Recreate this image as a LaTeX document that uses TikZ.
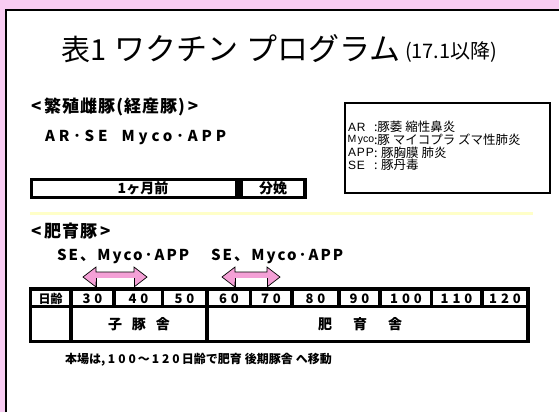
\documentclass[tikz,border=0pt]{standalone}
\usepackage{fontspec}
\setmainfont{Noto Sans CJK JP}[BoldFont={Noto Sans CJK JP Black}]
\newfontfamily\latinlegend{Liberation Sans}
\definecolor{pinkbg}{RGB}{248,204,242}
\definecolor{arrowpink}{RGB}{244,160,214}
\definecolor{lineyellow}{RGB}{255,255,200}
\begin{document}
\begin{tikzpicture}[x=1pt,y=-1pt,
  every node/.style={inner sep=0pt, outer sep=0pt},
  txt/.style={anchor=west},
  boldtxt/.style={anchor=center, font=\bfseries\fontsize{11}{12}\selectfont},
  cell/.style={fill=white},
  legend/.style={anchor=west, font=\fontsize{12.5}{13}\selectfont},
  legendlat/.style={anchor=west, font=\latinlegend\fontsize{12}{13}\selectfont\addfontfeature{LetterSpace=8}},
  parr/.style={fill=arrowpink, draw=black, line width=0.7pt, line join=miter}]
\useasboundingbox (0,0) rectangle (559,412);
% frame
\fill[pinkbg] (0,0) rectangle (559,412);
\fill[white] (6,10) rectangle (559,412);
\draw[line width=2pt] (6,412) -- (6,10) -- (559,10);
% title
\node[txt, font=\fontsize{29}{31}\selectfont] (t1) at (61,49) {表1};
\node[txt, font=\fontsize{31}{33}\selectfont] (t2) at (114,49) {ワクチン\hspace{8pt}プログラム};
\node[txt, font=\fontsize{20}{22}\selectfont] (t3) at (405,52) {(17.1以降)};
% breeding sows
\node[txt, font=\bfseries\fontsize{17}{19}\selectfont\addfontfeature{LetterSpace=6}] (h1) at (31,107) {<\,繁殖雌豚(経産豚)\,>};
\node[txt, font=\bfseries\fontsize{15}{17}\selectfont\addfontfeature{LetterSpace=26}] (v1) at (45,137) {AR･SE\hspace{14pt}Myco･APP};
% 1 month box
\fill[black] (30,178) rectangle (307,199);
\fill[cell] (33,181) rectangle (235,196);
\fill[cell] (243,181) rectangle (303,196);
\node[boldtxt, font=\bfseries\fontsize{14}{15}\selectfont] (m1) at (143,188.5) {1ヶ月前};
\node[boldtxt, font=\bfseries\fontsize{14}{15}\selectfont] (m2) at (273,188.5) {分娩};
% legend
\draw[line width=2.5pt, fill=white] (345,103) rectangle (550,193);
\node[legendlat] (l1a) at (348,127) {AR};
\node[legend] (l1b) at (374,127) {:豚萎 縮性鼻炎};
\node[legendlat, font=\latinlegend\fontsize{10.5}{12}\selectfont] (l2a) at (347.5,140) {M\,yco};
\node[legend] (l2b) at (374,140) {:豚 マイコプラ ズマ性肺炎};
\node[legendlat] (l3a) at (348,152.5) {APP};
\node[legend] (l3b) at (374,152.5) {: 豚胸膜 肺炎};
\node[legendlat] (l4a) at (348,165) {SE};
\node[legend] (l4b) at (374,165) {: 豚丹毒};
% yellow line
\fill[lineyellow] (30,212) rectangle (533,215);
% fattening pigs
\node[txt, font=\bfseries\fontsize{17}{19}\selectfont\addfontfeature{LetterSpace=6}] (h2) at (31,231) {<\,肥育豚\,>};
\node[txt, font=\bfseries\fontsize{15}{17}\selectfont\addfontfeature{LetterSpace=14}] (v2) at (57,256) {SE、Myco･APP};
\node[txt, font=\bfseries\fontsize{15}{17}\selectfont\addfontfeature{LetterSpace=14}] (v3) at (211,256) {SE、Myco･APP};
% pink double arrows
\draw[parr] (83,277) -- (96,267) -- (96,272) -- (134,272) -- (134,267) -- (147,277) -- (134,287) -- (134,282) -- (96,282) -- (96,287) -- cycle;
\fill[white] (96,278) rectangle (134,287);
\draw[line width=0.8pt] (96,278) -- (96,287) (134,278) -- (134,287);
\draw[parr] (222,277) -- (235,267) -- (235,272) -- (267,272) -- (267,267) -- (280,277) -- (267,287) -- (267,282) -- (235,282) -- (235,287) -- cycle;
\fill[white] (235,278) rectangle (267,287);
\draw[line width=0.8pt] (235,278) -- (235,287) (267,278) -- (267,287);
% table
\fill[black] (29,287) rectangle (530,343);
\foreach \a/\b/\t in {32/69/{\fontsize{12}{13}\selectfont 日齢},73/112/3\hspace{4pt}0,116/161/4\hspace{4pt}0,164/205/5\hspace{4pt}0,209/249/6\hspace{4pt}0,252/290/7\hspace{4pt}0,294/337/8\hspace{4pt}0,341/378/9\hspace{4pt}0,382/430/1\hspace{4pt}0\hspace{4pt}0,433/480/1\hspace{4pt}1\hspace{4pt}0,484/526/1\hspace{4pt}2\hspace{4pt}0}{
  \fill[cell] (\a,291) rectangle (\b,305);
  \node[boldtxt, font=\bfseries\fontsize{13}{14}\selectfont] at ({(\a+\b)/2},298.5) {\t};
}
\fill[cell] (32,308) rectangle (69,340);
\fill[cell] (73,308) rectangle (205,340);
\fill[cell] (209,308) rectangle (526,340);
\node[boldtxt, font=\bfseries\fontsize{14}{15}\selectfont] (r1) at (139,324) {子\hspace{10pt}豚\hspace{10pt}舎};
\node[boldtxt, font=\bfseries\fontsize{14}{15}\selectfont] (r2) at (360,324) {肥\hspace{21pt}育\hspace{21pt}舎};
% footer
\node[txt, font=\bfseries\fontsize{12}{13}\selectfont] (f1) at (65,360) {本場は, 1\hspace{3pt}0\hspace{3pt}0\hspace{2pt}～\hspace{2pt}1\hspace{3pt}2\hspace{3pt}0\hspace{2pt}日齢で肥育\hspace{3pt}後期豚舎\hspace{3pt}へ移動};
\end{tikzpicture}
\end{document}
